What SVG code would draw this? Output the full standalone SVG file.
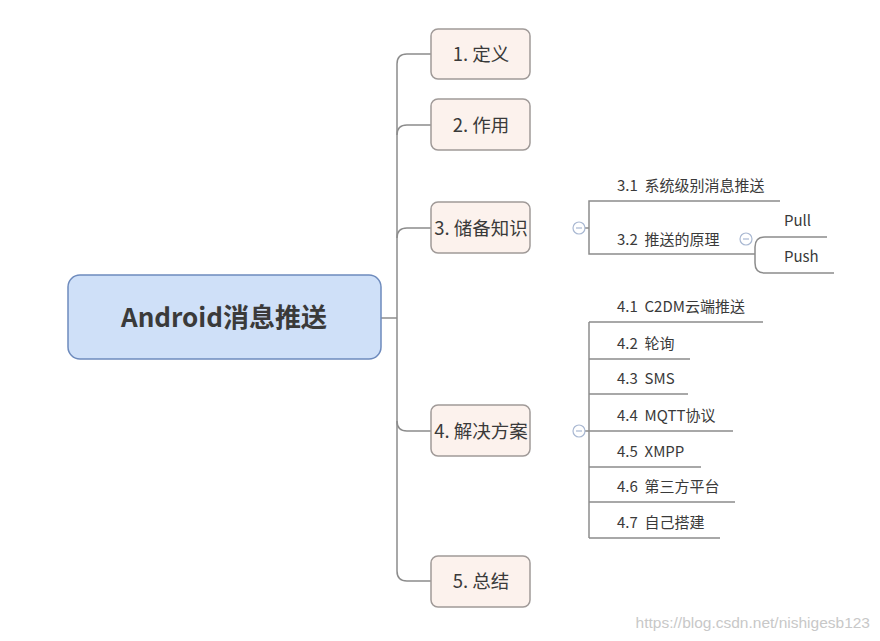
<svg xmlns="http://www.w3.org/2000/svg" width="880" height="641" viewBox="0 0 880 641">
<style>
.box{fill:#fcf2ed;stroke:#a09a98;stroke-width:1.5}
.root{fill:#cfe0f8;stroke:#6e8bbd;stroke-width:1.5}
.t{font-family:"Noto Sans CJK SC","Noto Sans",sans-serif;fill:#3a3a3a}
.ct{font-size:18.5px;text-anchor:middle}
.st{font-size:15px;white-space:pre}
.ln{fill:none;stroke:#8c8c8c;stroke-width:1.5}
.cc{fill:#fff;stroke:#a9b8d2;stroke-width:1.2}
.cm{stroke:#a9b8d2;stroke-width:1.2}
</style>
<rect width="880" height="641" fill="#ffffff"/>
<g id="connectors">
<path class="ln" d="M381,318 H397"/>
<path class="ln" d="M431,54 H407 Q397,54 397,64 V571 Q397,581 407,581 H431"/>
<path class="ln" d="M397,135 Q397,125 407,125 H431"/>
<path class="ln" d="M397,238 Q397,228 407,228 H431"/>
<path class="ln" d="M397,421 Q397,431 407,431 H431"/>
<path class="ln" d="M780,201 H589 V254 H755"/>
<path class="ln" d="M827,237 H765 Q755,237 755,247 V263 Q755,273 765,273 H834"/>
<path class="ln" d="M589,322 V538"/>
<path class="ln" d="M589,322 H763 M589,359 H690 M589,394 H688 M584,431 H733 M589,467 H701 M589,502 H735 M589,538 H720"/>
<path class="ln" d="M584,228 H589"/>
</g>
<g id="root">
<rect class="root" x="68" y="275" width="313" height="84" rx="12"/>
<text class="t" x="224" y="327" font-size="26" font-weight="bold" text-anchor="middle">Android消息推送</text>
</g>
<g id="n1">
<rect class="box" x="431" y="29" width="99" height="50" rx="7"/>
<text class="t ct" x="481" y="61">1. 定义</text>
</g>
<g id="n2">
<rect class="box" x="431" y="99" width="99" height="51" rx="7"/>
<text class="t ct" x="481" y="132">2. 作用</text>
</g>
<g id="n3">
<rect class="box" x="431" y="202" width="99" height="51" rx="7"/>
<text class="t ct" x="481" y="235">3. 储备知识</text>
<circle class="cc" cx="579" cy="228" r="6"/>
<path class="cm" d="M576,228 H582"/>
</g>
<g id="n31"><text class="t st" x="617" y="191" xml:space="preserve">3.1  系统级别消息推送</text></g>
<g id="n32">
<text class="t st" x="617" y="245" xml:space="preserve">3.2  推送的原理</text>
<circle class="cc" cx="746" cy="239" r="6"/>
<path class="cm" d="M743,239 H749"/>
</g>
<g id="n321"><text class="t st" x="784" y="226">Pull</text></g>
<g id="n322"><text class="t st" x="784" y="262">Push</text></g>
<g id="n4">
<rect class="box" x="431" y="405" width="99" height="51" rx="7"/>
<text class="t ct" x="481" y="438">4. 解决方案</text>
<circle class="cc" cx="579" cy="431" r="6"/>
<path class="cm" d="M576,431 H582"/>
</g>
<g id="n41"><text class="t st" x="617" y="312" xml:space="preserve">4.1  C2DM云端推送</text></g>
<g id="n42"><text class="t st" x="617" y="349" xml:space="preserve">4.2  轮询</text></g>
<g id="n43"><text class="t st" x="617" y="384" xml:space="preserve">4.3  SMS</text></g>
<g id="n44"><text class="t st" x="617" y="421" xml:space="preserve">4.4  MQTT协议</text></g>
<g id="n45"><text class="t st" x="617" y="457" xml:space="preserve">4.5  XMPP</text></g>
<g id="n46"><text class="t st" x="617" y="492" xml:space="preserve">4.6  第三方平台</text></g>
<g id="n47"><text class="t st" x="617" y="528" xml:space="preserve">4.7  自己搭建</text></g>
<g id="n5">
<rect class="box" x="431" y="556" width="99" height="51" rx="7"/>
<text class="t ct" x="481" y="588">5. 总结</text>
</g>
<text x="870" y="628" font-family="Liberation Sans, Arial, sans-serif" font-size="15.5" fill="#c8c8c8" text-anchor="end">https://blog.csdn.net/nishigesb123</text>
</svg>
